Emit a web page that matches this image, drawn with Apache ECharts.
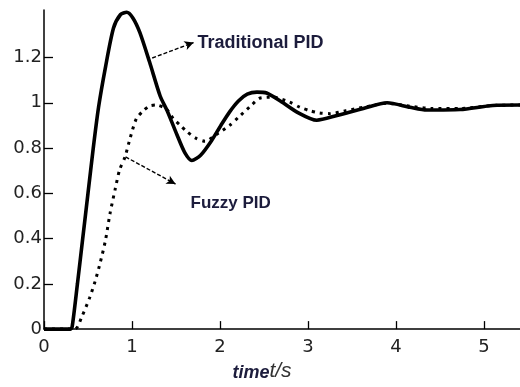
<!DOCTYPE html>
<html>
<head>
<meta charset="utf-8">
<script src="https://cdn.jsdelivr.net/npm/echarts@6/dist/echarts.min.js"></script>
<style>
  html, body { margin: 0; padding: 0; background: #fff; }
  #chart { width: 520px; height: 387px; }
</style>
</head>
<body>
<div id="chart"></div>
<script>
// step responses: [time s, output]
var traditionalPid = [
  [0, 0], [0.3, 0], [0.32, 0.01], [0.38, 0.2], [0.44, 0.4], [0.5, 0.6], [0.56, 0.8],
  [0.62, 0.98], [0.7, 1.16], [0.79, 1.33], [0.87, 1.39], [0.94, 1.4], [1.01, 1.375],
  [1.09, 1.31], [1.2, 1.18], [1.32, 1.03], [1.4, 0.965], [1.51, 0.86], [1.6, 0.78],
  [1.68, 0.745], [1.78, 0.768], [1.9, 0.83], [2.01, 0.9], [2.11, 0.96],
  [2.21, 1.008], [2.31, 1.038], [2.42, 1.047], [2.53, 1.043], [2.69, 1.007],
  [2.88, 0.958], [3.1, 0.923], [3.33, 0.944], [3.63, 0.975], [3.9, 1.0],
  [4.16, 0.98], [4.35, 0.968], [4.73, 0.97], [5.1, 0.988], [5.41, 0.99]
];
var fuzzyPid = [
  [0, 0], [0.35, 0], [0.43, 0.055], [0.52, 0.14], [0.58, 0.21], [0.64, 0.295],
  [0.7, 0.395], [0.75, 0.51], [0.81, 0.62], [0.86, 0.705], [0.92, 0.76],
  [0.98, 0.845], [1.05, 0.93], [1.13, 0.965], [1.2, 0.986], [1.28, 0.99],
  [1.39, 0.972], [1.47, 0.93], [1.55, 0.9], [1.62, 0.874], [1.72, 0.845],
  [1.83, 0.83], [1.96, 0.86], [2.11, 0.9], [2.21, 0.936], [2.36, 0.99],
  [2.45, 1.02], [2.6, 1.025], [2.79, 1.003], [2.91, 0.98], [3.02, 0.965],
  [3.13, 0.955], [3.25, 0.952], [3.43, 0.965], [3.63, 0.98], [3.9, 0.998],
  [4.16, 0.985], [4.4, 0.975], [4.73, 0.975], [5.1, 0.988], [5.41, 0.99]
];
var xTicks = [0, 1, 2, 3, 4, 5];
var yTicks = [0, 0.2, 0.4, 0.6, 0.8, 1, 1.2];
// annotation arrows (tail, head) and label anchors, in data units
var tradArrow = [[1.23, 1.198], [1.7, 1.266]];
var fuzzyArrow = [[0.927, 0.761], [1.495, 0.641]];
var tradLabelAt = [1.74, 1.262];
var fuzzyLabelAt = [1.66, 0.555];

var ink = '#000';
var labelInk = '#1c1c3c';

function arrow(pts) {
  return {
    silent: true,
    symbol: ['none', 'arrow'],
    symbolSize: [7, 9],
    label: { show: false },
    lineStyle: { color: ink, type: [4, 2], width: 1.4 },
    data: [[{ coord: pts[0] }, { coord: pts[1] }]]
  };
}
function tag(at, text, size) {
  return {
    silent: true,
    symbol: 'circle',
    symbolSize: 1,
    itemStyle: { color: 'rgba(0,0,0,0)' },
    label: {
      show: true, position: 'right', distance: 0, formatter: text,
      color: labelInk, fontWeight: 'bold', fontSize: size, fontFamily: 'Liberation Sans'
    },
    data: [{ coord: at }]
  };
}

var chart = echarts.init(document.getElementById('chart'), null, { renderer: 'canvas' });
chart.setOption({
  animation: false,
  backgroundColor: '#fff',
  grid: { left: 44, right: 0, top: 10, bottom: 44 },
  xAxis: {
    type: 'value', min: 0, max: 5.41,
    name: '{a|time}{b|t/s}', nameLocation: 'middle', nameGap: 22,
    nameTextStyle: {
      padding: [0, 40, 0, 0],
      rich: {
        a: { fontFamily: 'Liberation Sans', fontStyle: 'italic', fontWeight: 'bold', fontSize: 18, color: labelInk, verticalAlign: 'bottom' },
        b: { fontFamily: 'Liberation Sans', fontStyle: 'italic', fontSize: 21, color: '#333', verticalAlign: 'bottom' }
      }
    },
    axisLine: { onZero: false, lineStyle: { color: ink, width: 1.5 } },
    axisTick: { inside: true, length: 8, customValues: xTicks, lineStyle: { color: ink, width: 1.3 } },
    axisLabel: { customValues: xTicks, margin: 9, fontSize: 18, fontFamily: 'DejaVu Sans', color: '#222' },
    splitLine: { show: false }
  },
  yAxis: {
    type: 'value', min: 0, max: 1.41,
    axisLine: { show: true, lineStyle: { color: ink, width: 1.5 } },
    axisTick: { show: true, inside: true, length: 9, customValues: yTicks, lineStyle: { color: ink, width: 1.3 } },
    axisLabel: { customValues: yTicks, margin: 2, fontSize: 18, fontFamily: 'DejaVu Sans', color: '#222' },
    splitLine: { show: false }
  },
  series: [
    {
      name: 'Traditional PID', type: 'line', data: traditionalPid,
      smooth: 0.25, showSymbol: false, clip: true,
      lineStyle: { color: ink, width: 3.6 },
      markLine: arrow(tradArrow),
      markPoint: tag(tradLabelAt, 'Traditional PID', 18)
    },
    {
      name: 'Fuzzy PID', type: 'line', data: fuzzyPid,
      smooth: 0.25, showSymbol: false, clip: true,
      lineStyle: { color: ink, width: 3, type: [3, 5], cap: 'butt' },
      markLine: arrow(fuzzyArrow),
      markPoint: tag(fuzzyLabelAt, 'Fuzzy PID', 17)
    }
  ]
});
window.addEventListener('resize', function () { chart.resize(); });
</script>
</body>
</html>
